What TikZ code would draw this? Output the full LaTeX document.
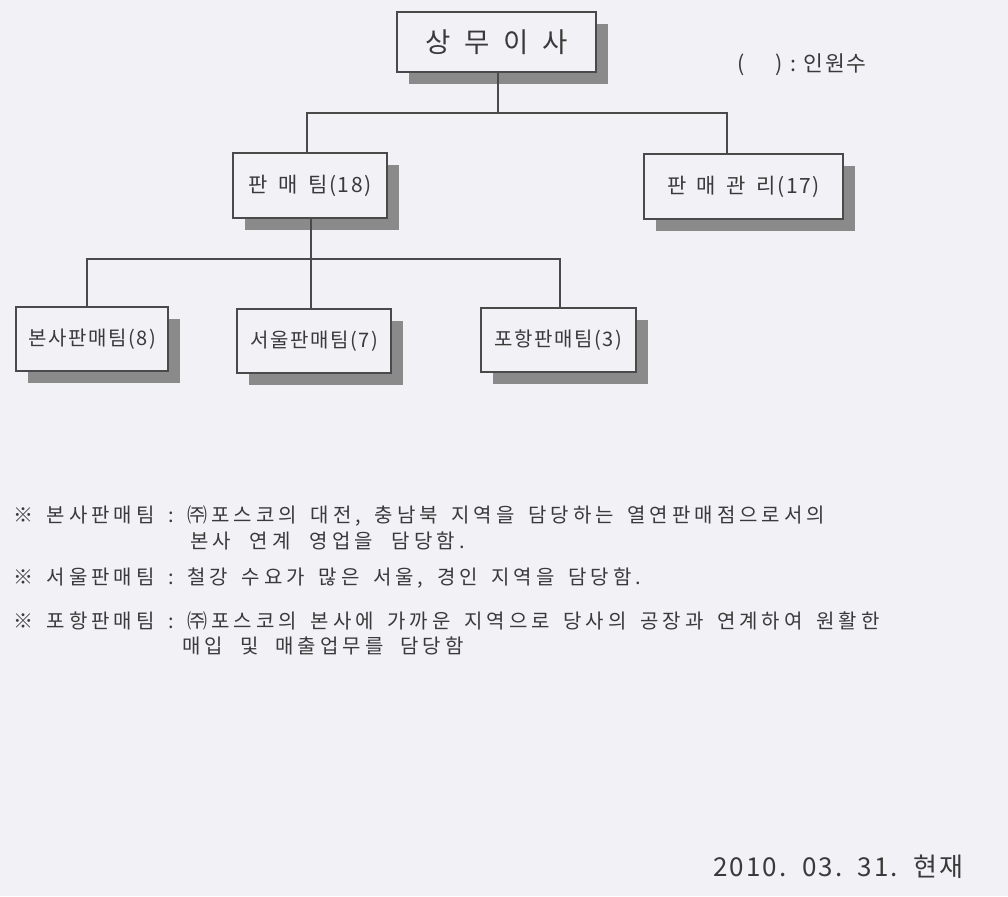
\documentclass[tikz,border=0pt]{standalone}
\usepackage{fontspec}
\setmainfont{Noto Sans CJK KR}
\newfontfamily\noteface[LetterSpace=20]{Noto Sans CJK KR}
\newfontfamily\boxface[LetterSpace=8]{Noto Sans CJK KR}
\usetikzlibrary{shadows}
\definecolor{bgc}{HTML}{F1F1F6}
\definecolor{ink}{HTML}{3A3A3A}
\definecolor{edge}{HTML}{4A4A4A}
\definecolor{shade}{HTML}{8A8A8A}
\newcommand{\gsp}{\hspace{0.5em}}
\newcommand{\nsp}{\hspace{0.68em}}
\tikzset{
  orgbox/.style={draw=edge, line width=1.6pt, fill=bgc, text=ink, inner sep=0pt,
    minimum height=64pt, font=\boxface\fontsize{21}{24}\selectfont,
    drop shadow={shadow xshift=12pt, shadow yshift=-12pt, fill=shade, opacity=1}},
  conn/.style={draw=edge, line width=1.5pt},
  note/.style={anchor=west, text=ink, inner sep=0pt, font=\noteface\fontsize{20}{22}\selectfont},
}
\begin{document}
\begin{tikzpicture}[x=1pt, y=-1pt]
\fill[bgc] (0,0) rectangle (1008,896);
\useasboundingbox (0,0) rectangle (1008,896);

\node[orgbox, minimum width=199pt, minimum height=60pt, font=\boxface\fontsize{27.5}{30}\selectfont] (top) at (496.5,42) {상\gsp 무\gsp 이\gsp 사};
\node[orgbox, minimum width=154pt, minimum height=65pt] (pm) at (310,185.5) {판\gsp 매\gsp 팀(18)};
\node[orgbox, minimum width=199pt, minimum height=65pt] (mg) at (743.5,186.5) {판\gsp 매\gsp 관\gsp 리(17)};
\node[orgbox, minimum width=152pt, font=\boxface\fontsize{20}{24}\selectfont] (bs) at (92,339) {본사판매팀(8)};
\node[orgbox, minimum width=154pt, font=\boxface\fontsize{20}{24}\selectfont] (sw) at (314,341) {서울판매팀(7)};
\node[orgbox, minimum width=155pt, font=\boxface\fontsize{20}{24}\selectfont] (ph) at (558.5,340) {포항판매팀(3)};

\coordinate (j1) at (498,113);
\coordinate (j2) at (311,259);
\draw[conn] (top.south -| j1) -- (j1);
\draw[conn] ([xshift=-3pt]pm.north) |- (j1) -| ([xshift=-16.5pt]mg.north);
\draw[conn] (pm.south -| j2) -- (j2);
\draw[conn] ([xshift=-5pt]bs.north) |- (j2) -| ([xshift=1.5pt]ph.north);
\draw[conn] (j2) -- (j2 |- sw.north);

\node[text=ink, inner sep=0pt, anchor=west, font=\boxface\fontsize{21.5}{24}\selectfont] (legend) at (737,65) {(\hspace{1.45em})\hspace{0.35em}:\hspace{0.35em}인원수};

\node[note] (n1) at (13,516) {※\nsp 본사판매팀\nsp :\nsp ㈜포스코의\nsp 대전,\nsp 충남북\nsp 지역을\nsp 담당하는\nsp 열연판매점으로서의};
\node[note] (n2) at (190,541) {본사\hspace{0.95em}연계\hspace{0.95em}영업을\hspace{0.95em}담당함.};
\node[note] (n3) at (13,578) {※\nsp 서울판매팀\nsp :\nsp 철강\nsp 수요가\nsp 많은\nsp 서울,\nsp 경인\nsp 지역을\nsp 담당함.};
\node[note] (n4) at (13,621) {※\nsp 포항판매팀\nsp :\nsp ㈜포스코의\nsp 본사에\nsp 가까운\nsp 지역으로\nsp 당사의\nsp 공장과\nsp 연계하여\nsp 원활한};
\node[note] (n5) at (182,646) {매입\hspace{0.85em}및\hspace{0.85em}매출업무를\hspace{0.85em}담당함};

\node[text=ink, inner sep=0pt, anchor=west, font=\boxface\fontsize{26}{30}\selectfont] (date) at (713,867) {2010.\hspace{0.6em}03.\hspace{0.6em}31.\hspace{0.6em}현재};
\end{tikzpicture}
\end{document}
